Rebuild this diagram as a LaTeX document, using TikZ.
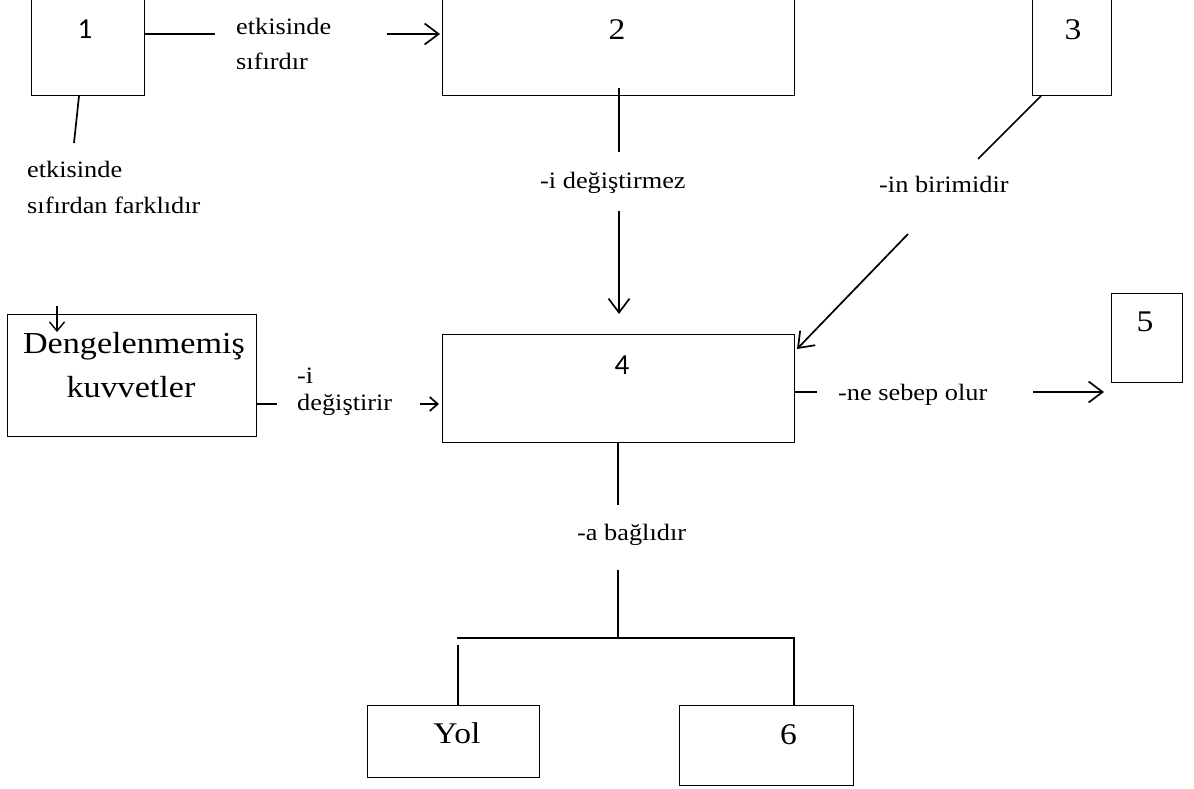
\documentclass[tikz,border=0pt]{standalone}
\usepackage{fontspec}
\setmainfont[FakeStretch=1.12]{Liberation Serif}
\newfontfamily\calfont{Carlito}
\usetikzlibrary{arrows.meta}
\tikzset{
  box/.style={draw, line width=1pt},
  conn/.style={line width=1.7pt},
  arr/.style={line width=1.7pt, -{Straight Barb[length=14pt,width=21pt,line width=1.7pt]}},
  lbl/.style={inner sep=0pt, anchor=base west, font=\fontsize{23.5}{28}\selectfont},
  num/.style={inner sep=0pt, font=\fontsize{30}{34}\selectfont},
  sansnum/.style={inner sep=0pt, font=\calfont\fontsize{29}{34}\selectfont},
}
\begin{document}
\begin{tikzpicture}[x=1pt,y=-1pt]
\useasboundingbox (0,0) rectangle (1194,789);
\clip (0,0) rectangle (1194,789);
% boxes
\draw[box] (31,-5) rectangle (144,96);
\draw[box] (442,-5) rectangle (794,96);
\draw[box] (1032,-5) rectangle (1111,96);
\draw[box] (442,334) rectangle (794,442);
\draw[box] (1111,293) rectangle (1182,382);
\draw[box] (7,314) rectangle (256,436);
\draw[box] (367,705) rectangle (539,777);
\draw[box] (679,705) rectangle (853,785);
% box texts
\node[sansnum] (n1) at (85,29) {1};
\node[num] (n2) at (617,30) {2};
\node[num] (n3) at (1073,30) {3};
\node[sansnum] (n4) at (622,365) {4};
\node[num] (n5) at (1145,322) {5};
\node[num] (n6) at (788.5,735) {6};
\node[inner sep=0pt, anchor=base, font=\fontsize{30}{34}\selectfont] (yol) at (457,743) {Yol};
\node[inner sep=0pt, anchor=base, font=\fontsize{30.5}{34}\selectfont] (dk1) at (134,353) {Dengelenmemiş};
\node[inner sep=0pt, anchor=base, font=\fontsize{30.5}{34}\selectfont] (dk2) at (131,397) {kuvvetler};
% labels
\node[lbl] (l1a) at (236,35) {etkisinde};
\node[lbl] (l1b) at (236,70) {sıfırdır};
\node[lbl] (l2a) at (27,178) {etkisinde};
\node[lbl] (l2b) at (27,213) {sıfırdan farklıdır};
\node[lbl] (l3) at (540,188) {-i değiştirmez};
\node[lbl] (l4) at (879,193) {-in birimidir};
\node[lbl] (l5a) at (297,383) {-i};
\node[lbl] (l5b) at (297,410) {değiştirir};
\node[lbl] (l6) at (838,400) {-ne sebep olur};
\node[lbl] (l7) at (577,540) {-a bağlıdır};
% connectors
\coordinate (c1a) at (144,34); \coordinate (c1b) at (215,34);
\draw[conn] (c1a) -- (c1b);
\coordinate (c2a) at (387,34); \coordinate (c2b) at (440,34);
\draw[arr] (c2a) -- (c2b);
\coordinate (c3a) at (79,96); \coordinate (c3b) at (74,143);
\draw[conn] (c3a) -- (c3b);
\coordinate (c4a) at (619,88); \coordinate (c4b) at (619,152);
\draw[conn] (c4a) -- (c4b);
\coordinate (c5a) at (619,211); \coordinate (c5b) at (619,314);
\draw[arr] (c5a) -- (c5b);
\coordinate (c6a) at (1041,96); \coordinate (c6b) at (978,159);
\draw[conn] (c6a) -- (c6b);
\coordinate (c7a) at (908,234); \coordinate (c7b) at (797,349);
\draw[arr] (c7a) -- (c7b);
\coordinate (c8a) at (794,392); \coordinate (c8b) at (817,392);
\draw[conn] (c8a) -- (c8b);
\coordinate (c9a) at (1033,392); \coordinate (c9b) at (1104,392);
\draw[arr] (c9a) -- (c9b);
\coordinate (c10a) at (257,404); \coordinate (c10b) at (277,404);
\draw[conn] (c10a) -- (c10b);
\coordinate (c11a) at (420,404); \coordinate (c11b) at (439,404);
\draw[line width=1.7pt, -{Straight Barb[length=8pt,width=14pt,line width=1.7pt]}] (c11a) -- (c11b);
\coordinate (c12a) at (57,306); \coordinate (c12b) at (57,332);
\draw[line width=1.4pt, -{Straight Barb[length=9pt,width=15pt,line width=1.4pt]}] (c12a) -- (c12b);
\coordinate (c13a) at (618,442); \coordinate (c13b) at (618,505);
\draw[conn] (c13a) -- (c13b);
\coordinate (c14a) at (618,570); \coordinate (c14b) at (618,638);
\draw[conn] (c14a) -- (c14b);
\coordinate (hl) at (457,638); \coordinate (hr) at (795,638);
\draw[conn] (hl) -- (hr);
\coordinate (yl) at (458,645); \coordinate (yb) at (458,705);
\draw[conn] (yl) -- (yb);
\coordinate (sa) at (794,637.2); \coordinate (sb) at (794,705);
\draw[conn] (sa) -- (sb);
\end{tikzpicture}
\end{document}
